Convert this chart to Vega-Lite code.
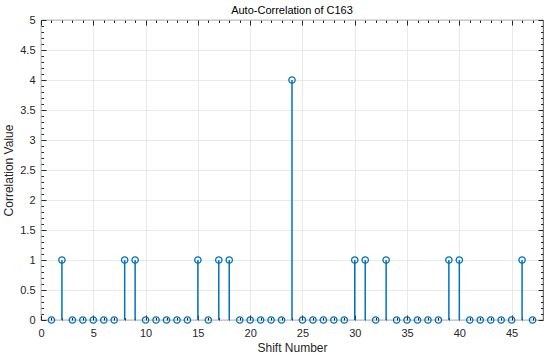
{
  "$schema": "https://vega.github.io/schema/vega-lite/v6.json",
  "autosize": {"type": "none"},
  "width": 502,
  "height": 300,
  "padding": {"left": 41, "top": 20, "right": 7, "bottom": 35},
  "title": {"text": "Auto-Correlation of C163", "fontSize": 11, "fontWeight": "normal", "font": "Liberation Sans", "color": "#000000", "baseline": "alphabetic", "offset": -1, "dy": 10},
  "config": {
    "view": {"stroke": "#262626", "strokeWidth": 0.8},
    "axis": {"labelFont": "Liberation Sans", "titleFont": "Liberation Sans", "labelColor": "#262626", "titleColor": "#262626", "labelFontSize": 11, "titleFontSize": 12, "titleFontWeight": "normal", "tickColor": "#262626", "domain": false, "gridColor": "#e3e3e3", "gridWidth": 0.8}
  },
  "data": {"values": [
    {"shift": 1, "value": 0}, {"shift": 2, "value": 1}, {"shift": 3, "value": 0}, {"shift": 4, "value": 0},
    {"shift": 5, "value": 0}, {"shift": 6, "value": 0}, {"shift": 7, "value": 0}, {"shift": 8, "value": 1},
    {"shift": 9, "value": 1}, {"shift": 10, "value": 0}, {"shift": 11, "value": 0}, {"shift": 12, "value": 0},
    {"shift": 13, "value": 0}, {"shift": 14, "value": 0}, {"shift": 15, "value": 1}, {"shift": 16, "value": 0},
    {"shift": 17, "value": 1}, {"shift": 18, "value": 1}, {"shift": 19, "value": 0}, {"shift": 20, "value": 0},
    {"shift": 21, "value": 0}, {"shift": 22, "value": 0}, {"shift": 23, "value": 0}, {"shift": 24, "value": 4},
    {"shift": 25, "value": 0}, {"shift": 26, "value": 0}, {"shift": 27, "value": 0}, {"shift": 28, "value": 0},
    {"shift": 29, "value": 0}, {"shift": 30, "value": 1}, {"shift": 31, "value": 1}, {"shift": 32, "value": 0},
    {"shift": 33, "value": 1}, {"shift": 34, "value": 0}, {"shift": 35, "value": 0}, {"shift": 36, "value": 0},
    {"shift": 37, "value": 0}, {"shift": 38, "value": 0}, {"shift": 39, "value": 1}, {"shift": 40, "value": 1},
    {"shift": 41, "value": 0}, {"shift": 42, "value": 0}, {"shift": 43, "value": 0}, {"shift": 44, "value": 0},
    {"shift": 45, "value": 0}, {"shift": 46, "value": 1}, {"shift": 47, "value": 0}
  ]},
  "layer": [
    {
      "mark": {"type": "rule", "color": "#0072BD", "strokeWidth": 1.5},
      "encoding": {
        "x": {"field": "shift", "type": "quantitative", "scale": {"domain": [0, 48], "nice": false, "zero": false},
              "axis": {"orient": "bottom", "title": "Shift Number", "values": [0, 5, 10, 15, 20, 25, 30, 35, 40, 45], "grid": true, "tickSize": -5, "labelPadding": 12, "titlePadding": 4, "labelFlush": false}},
        "y": {"field": "value", "type": "quantitative", "scale": {"domain": [0, 5], "nice": false},
              "axis": {"orient": "left", "title": "Correlation Value", "format": ".1~f", "values": [0, 0.5, 1, 1.5, 2, 2.5, 3, 3.5, 4, 4.5, 5], "grid": true, "tickSize": -5, "labelPadding": 11, "titlePadding": 4, "labelFlush": false}},
        "y2": {"datum": 0}
      }
    },
    {
      "mark": {"type": "point", "shape": "circle", "filled": false, "color": "#0072BD", "size": 40, "strokeWidth": 1.3, "opacity": 1},
      "encoding": {
        "x": {"field": "shift", "type": "quantitative",
              "axis": {"orient": "top", "title": null, "values": [0, 5, 10, 15, 20, 25, 30, 35, 40, 45], "grid": false, "labels": false, "tickSize": -5}},
        "y": {"field": "value", "type": "quantitative",
              "axis": {"orient": "right", "title": null, "values": [0, 0.5, 1, 1.5, 2, 2.5, 3, 3.5, 4, 4.5, 5], "grid": false, "labels": false, "tickSize": -5}}
      }
    },
    {
      "mark": {"type": "point", "opacity": 0},
      "encoding": {
        "x": {"field": "shift", "type": "quantitative",
              "axis": {"orient": "bottom", "title": null, "values": [1,2,3,4,6,7,8,9,11,12,13,14,16,17,18,19,21,22,23,24,26,27,28,29,31,32,33,34,36,37,38,39,41,42,43,44,46,47], "grid": false, "labels": false, "tickSize": -2.5}},
        "y": {"field": "value", "type": "quantitative",
              "axis": {"orient": "left", "title": null, "values": [0.1,0.2,0.3,0.4,0.6,0.7,0.8,0.9,1.1,1.2,1.3,1.4,1.6,1.7,1.8,1.9,2.1,2.2,2.3,2.4,2.6,2.7,2.8,2.9,3.1,3.2,3.3,3.4,3.6,3.7,3.8,3.9,4.1,4.2,4.3,4.4,4.6,4.7,4.8,4.9], "grid": false, "labels": false, "tickSize": -2.5}}
      }
    },
    {
      "mark": {"type": "point", "opacity": 0},
      "encoding": {
        "x": {"field": "shift", "type": "quantitative",
              "axis": {"orient": "top", "title": null, "values": [1,2,3,4,6,7,8,9,11,12,13,14,16,17,18,19,21,22,23,24,26,27,28,29,31,32,33,34,36,37,38,39,41,42,43,44,46,47], "grid": false, "labels": false, "tickSize": -2.5}},
        "y": {"field": "value", "type": "quantitative",
              "axis": {"orient": "right", "title": null, "values": [0.1,0.2,0.3,0.4,0.6,0.7,0.8,0.9,1.1,1.2,1.3,1.4,1.6,1.7,1.8,1.9,2.1,2.2,2.3,2.4,2.6,2.7,2.8,2.9,3.1,3.2,3.3,3.4,3.6,3.7,3.8,3.9,4.1,4.2,4.3,4.4,4.6,4.7,4.8,4.9], "grid": false, "labels": false, "tickSize": -2.5}}
      }
    }
  ],
  "resolve": {"axis": {"x": "independent", "y": "independent"}}
}
